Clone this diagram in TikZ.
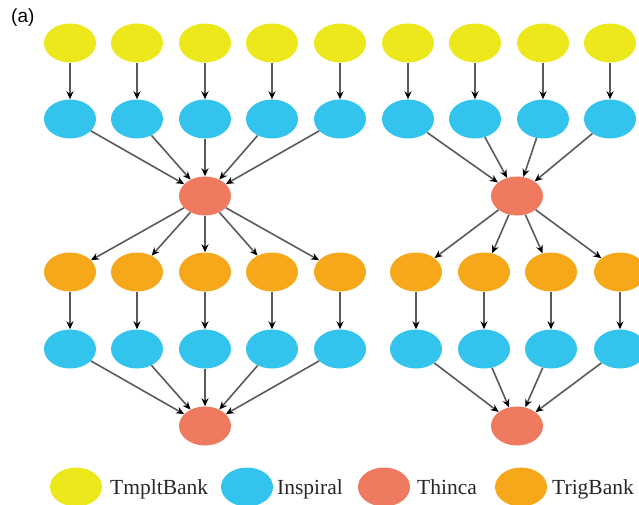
\documentclass[tikz,border=0pt]{standalone}
\usepackage{fontspec}
\setmainfont{Liberation Serif}
\newfontfamily\labelsans{Liberation Sans}
\usetikzlibrary{shapes.geometric,arrows.meta}
\definecolor{cTmplt}{HTML}{EDE81C}
\definecolor{cInsp}{HTML}{33C4EE}
\definecolor{cThin}{HTML}{EE7B60}
\definecolor{cTrig}{HTML}{F7A81A}
\definecolor{cEdge}{HTML}{5A5A5A}
\tikzset{
  job/.style={ellipse, minimum width=52pt, minimum height=39pt, inner sep=0pt, draw=none},
  tmplt/.style={job, fill=cTmplt},
  insp/.style={job, fill=cInsp},
  thin/.style={job, fill=cThin},
  trig/.style={job, fill=cTrig},
  flow/.style={draw=cEdge, line width=1.6pt, -{Stealth[length=8pt,width=7pt,black]}},
  legtext/.style={anchor=base west, font=\fontsize{21.5}{24}\selectfont, inner sep=0pt, text=black!85}
}
\begin{document}
\begin{tikzpicture}[x=1pt,y=-1pt]
\useasboundingbox (0,0) rectangle (639,505);
\clip (0,0) rectangle (639,505);
\node[anchor=north west, inner sep=0pt, font=\labelsans\fontsize{19}{22}\selectfont] (lab) at (11,9) {(a)};
% left group
\foreach \i/\x in {1/70,2/137,3/205,4/272,5/340}{
  \node[tmplt] (LT\i) at (\x,43) {};
  \node[insp] (LI\i) at (\x,119) {};
  \node[trig] (LG\i) at (\x,272) {};
  \node[insp] (LJ\i) at (\x,349) {};
}
\node[thin] (LR1) at (205,196) {};
\node[thin] (LR2) at (205,426) {};
% right group
\foreach \i/\x in {1/408,2/475,3/543,4/610}{
  \node[tmplt] (RT\i) at (\x,43) {};
  \node[insp] (RI\i) at (\x,119) {};
}
\foreach \i/\x in {1/416,2/484,3/551,4/620}{
  \node[trig] (RG\i) at (\x,272) {};
  \node[insp] (RJ\i) at (\x,349) {};
}
\node[thin] (RR1) at (517,196) {};
\node[thin] (RR2) at (517,426) {};
% edges left
\foreach \i in {1,...,5}{
  \draw[flow] (LT\i) -- (LI\i);
  \draw[flow] (LI\i) -- (LR1);
  \draw[flow] (LR1) -- (LG\i);
  \draw[flow] (LG\i) -- (LJ\i);
  \draw[flow] (LJ\i) -- (LR2);
}
% edges right
\foreach \i in {1,...,4}{
  \draw[flow] (RT\i) -- (RI\i);
  \draw[flow] (RI\i) -- (RR1);
  \draw[flow] (RR1) -- (RG\i);
  \draw[flow] (RG\i) -- (RJ\i);
  \draw[flow] (RJ\i) -- (RR2);
}
% legend
\node[tmplt] (k1) at (76,487) {};
\node[legtext] (t1) at (110,494) {TmpltBank};
\node[insp] (k2) at (247,487) {};
\node[legtext] (t2) at (277,494) {Inspiral};
\node[thin] (k3) at (384,487) {};
\node[legtext] (t3) at (417,494) {Thinca};
\node[trig] (k4) at (521,487) {};
\node[legtext] (t4) at (552,494) {TrigBank};
\end{tikzpicture}
\end{document}
